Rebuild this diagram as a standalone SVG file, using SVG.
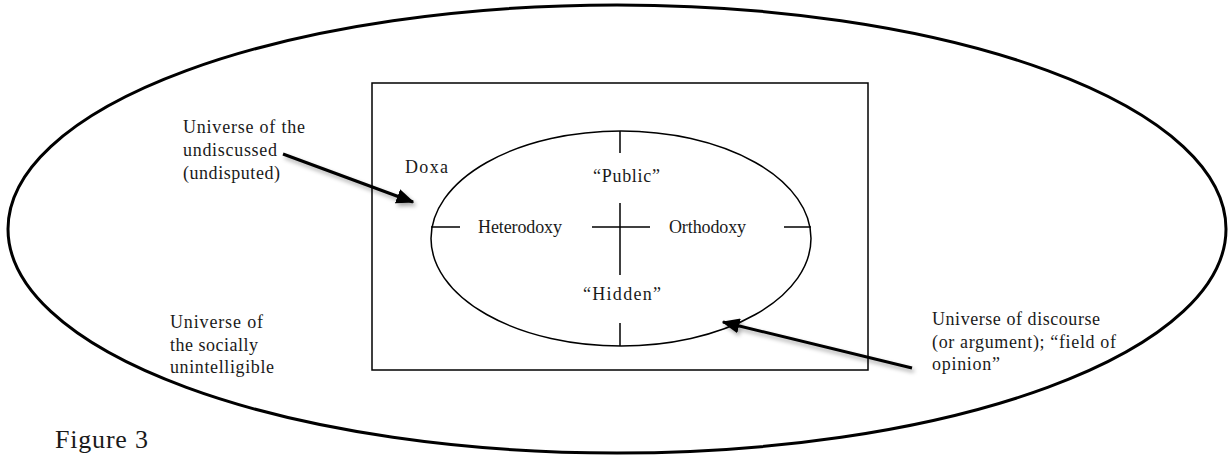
<svg xmlns="http://www.w3.org/2000/svg" width="1228" height="455" viewBox="0 0 1228 455">
<style>
text{font-family:"Liberation Serif","Times New Roman",serif;font-size:18px;fill:#1a1a1a}
.thick{fill:none;stroke:#000;stroke-width:3}
.thin{fill:none;stroke:#000;stroke-width:1.5}
.arr{fill:none;stroke:#000;stroke-width:3}
</style>
<defs>
<filter id="sh" x="-20%" y="-20%" width="140%" height="160%">
<feDropShadow dx="2" dy="3" stdDeviation="2" flood-color="#000" flood-opacity="0.35"/>
</filter>
<marker id="ah" markerWidth="6" markerHeight="5" refX="5.5" refY="2.5" orient="auto" markerUnits="strokeWidth">
<path d="M0,0 L6,2.5 L0,5 Z" fill="#000"/>
</marker>
</defs>
<rect width="1228" height="455" fill="#fff"/>
<g id="outer">
<ellipse class="thick" cx="617" cy="229" rx="609" ry="224"/>
<text x="170" y="328" textLength="93">Universe of</text>
<text x="170" y="351" textLength="88">the socially</text>
<text x="170" y="373" textLength="104">unintelligible</text>
</g>
<g id="doxa">
<rect class="thin" x="372" y="83" width="496" height="287"/>
<text x="405" y="173" textLength="43">Doxa</text>
</g>
<g id="discourse">
<ellipse class="thin" cx="621" cy="238.5" rx="190" ry="107.5"/>
<line class="thin" x1="620" y1="131" x2="620" y2="153"/>
<line class="thin" x1="620" y1="323" x2="620" y2="346"/>
<line class="thin" x1="431" y1="227" x2="460" y2="227"/>
<line class="thin" x1="784" y1="227" x2="811" y2="227"/>
<line class="thin" x1="592" y1="227" x2="650" y2="227"/>
<line class="thin" x1="620" y1="203" x2="620" y2="275"/>
<text x="593" y="182" textLength="67">“Public”</text>
<text x="478" y="233" textLength="84">Heterodoxy</text>
<text x="669" y="233" textLength="77">Orthodoxy</text>
<text x="583" y="300" textLength="78">“Hidden”</text>
</g>
<g id="label-undiscussed">
<text x="183" y="133" textLength="122">Universe of the</text>
<text x="183" y="156" textLength="94">undiscussed</text>
<text x="183" y="179" textLength="97">(undisputed)</text>
</g>
<g id="label-discourse">
<text x="932" y="325" textLength="168">Universe of discourse</text>
<text x="932" y="348" textLength="184">(or argument); “field of</text>
<text x="932" y="370" textLength="68">opinion”</text>
</g>
<g id="figure-caption">
<text x="55" y="448" style="font-size:26px" textLength="93">Figure 3</text>
</g>
<g id="connectors" filter="url(#sh)">
<line class="arr" x1="283" y1="154" x2="413" y2="202" marker-end="url(#ah)"/>
<line class="arr" x1="912" y1="368" x2="723" y2="322" marker-end="url(#ah)"/>
</g>
</svg>
